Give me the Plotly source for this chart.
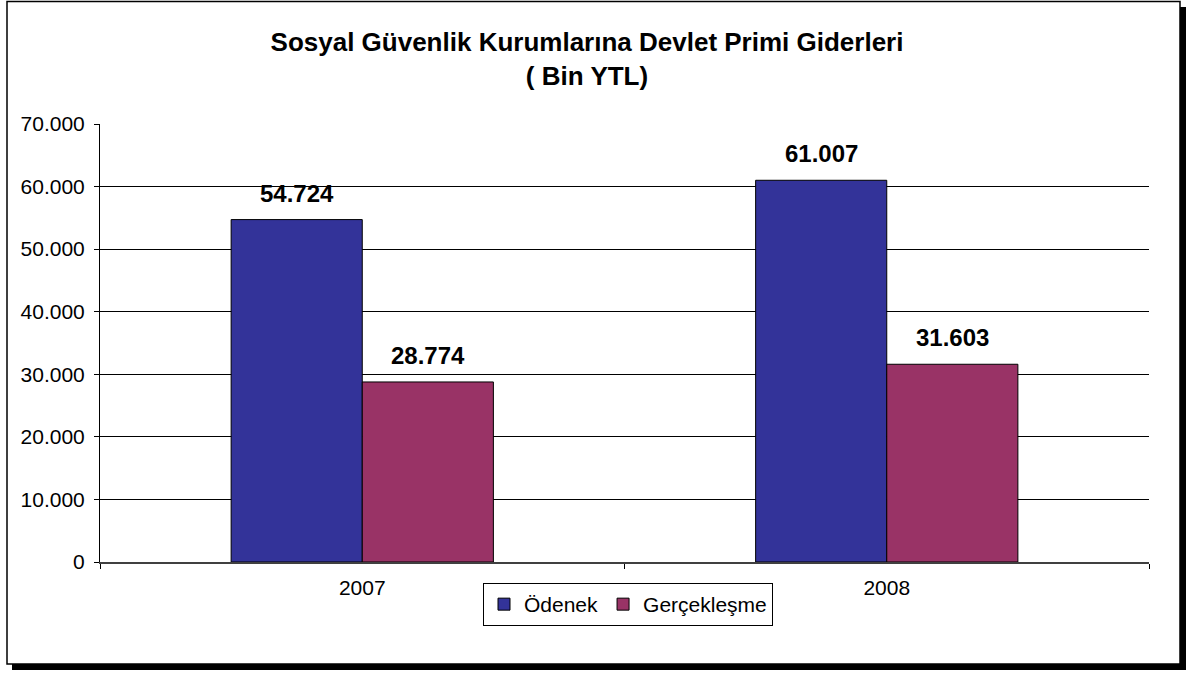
import plotly.graph_objects as go

years = ["2007", "2008"]
odenek = [54724, 61007]
gerceklesme = [28774, 31603]
series_names = ["Ödenek", "Gerçekleşme"]
series_colors = ["#333399", "#993366"]
y_ticks = [0, 10000, 20000, 30000, 40000, 50000, 60000, 70000]

W, H = 1186, 676
L, R, T, B = 100, 1149, 124, 562
BARGAP = 0.5
FONT = "Liberation Sans, Arial, sans-serif"


def px(x):
    return (x - L) / (R - L)


def py(y):
    return (B - y) / (B - T)


fig = go.Figure()
for name, vals, col in zip(series_names, [odenek, gerceklesme], series_colors):
    fig.add_trace(go.Bar(
        x=years, y=vals, name=name,
        marker=dict(color=col, line=dict(color="black", width=1)),
        hoverinfo="skip",
    ))

# data labels above bars; category index + half-bar offset from the axis geometry
n_s = len(series_names)
bar_frac = (1 - BARGAP) / n_s
annotations = []
for i, vals in enumerate([odenek, gerceklesme]):
    off = (i - (n_s - 1) / 2) * bar_frac
    for k, v in enumerate(vals):
        annotations.append(dict(
            x=k + off, y=v, xref="x", yref="y",
            text="<b>" + f"{v:,}".replace(",", ".") + "</b>",
            showarrow=False, yanchor="bottom", yshift=11,
            font=dict(family=FONT, size=24, color="black"),
        ))

shapes = [
    dict(type="rect", xref="paper", yref="paper", layer="below",
         x0=px(12), x1=px(1186), y0=py(670), y1=py(7),
         fillcolor="black", line=dict(width=0)),
    dict(type="rect", xref="paper", yref="paper", layer="below",
         x0=px(7), x1=px(1180), y0=py(664), y1=py(1.5),
         fillcolor="white", line=dict(color="black", width=1.5)),
]

fig.update_layout(
    width=W, height=H,
    margin=dict(l=L, r=W - R, t=T, b=H - B),
    paper_bgcolor="white",
    plot_bgcolor="#969696",
    separators=",.",
    barmode="group",
    bargap=BARGAP,
    bargroupgap=0,
    font=dict(family=FONT, size=21, color="black"),
    title=dict(
        text="<b>Sosyal Güvenlik Kurumlarına Devlet Primi Giderleri<br>( Bin YTL)</b>",
        x=587 / W, xanchor="center", xref="container",
        y=1 - 51 / H, yanchor="middle", yref="container",
        font=dict(family=FONT, size=26, color="black"),
    ),
    xaxis=dict(
        type="category", tickson="boundaries", ticks="outside", ticklen=5,
        tickcolor="black", showline=True, linecolor="#404040", linewidth=2,
        showgrid=False, tickfont=dict(size=21), fixedrange=True,
        range=[-0.5, len(years) - 0.5], ticklabelstandoff=6,
    ),
    yaxis=dict(
        range=[0, 70000], tickvals=y_ticks, tickformat=",d",
        ticks="outside", ticklen=5, tickcolor="black",
        showline=True, linecolor="black", linewidth=1,
        showgrid=True, gridcolor="black", gridwidth=1,
        zeroline=False, tickfont=dict(size=21), fixedrange=True,
        ticklabelstandoff=5,
    ),
    legend=dict(
        orientation="h", x=px(628), xanchor="center", y=py(583), yanchor="top",
        bordercolor="black", borderwidth=1, bgcolor="white",
        font=dict(size=21), itemwidth=30, tracegroupgap=0,
    ),
    shapes=shapes,
    annotations=annotations,
)

fig.write_html("out.html", config={"displayModeBar": False},
               post_script="document.body.style.margin='0';")
